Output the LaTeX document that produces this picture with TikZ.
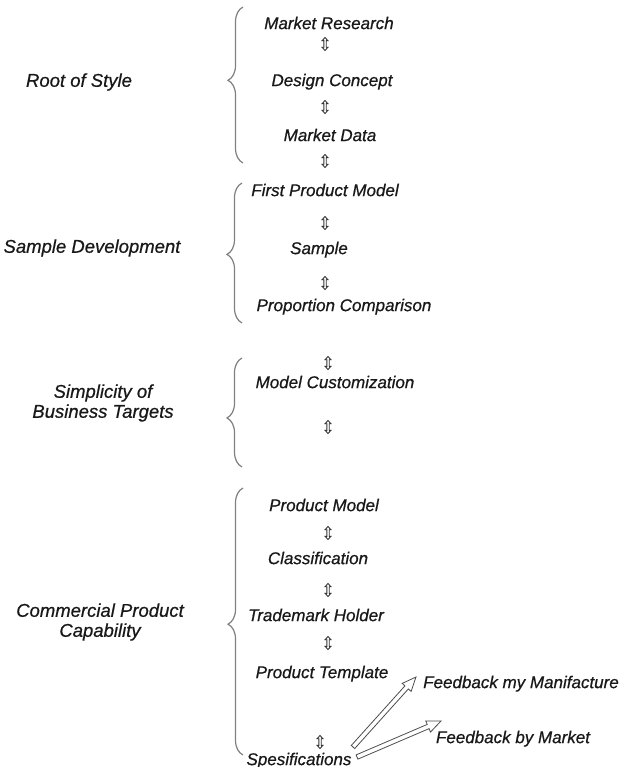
\documentclass[tikz,border=0pt]{standalone}
\usepackage{fontspec}
\setmainfont{Liberation Sans}[ItalicFeatures={FakeBold=0.6}]
\usetikzlibrary{calc,decorations.pathreplacing}

\tikzset{
  itemtext/.style={font=\fontsize{17}{20}\selectfont\itshape, text=black!90,
    inner sep=0pt, text height=12.2pt, text depth=0pt},
  grouptext/.style={font=\fontsize{18.5}{20}\selectfont\itshape, text=black!90,
    inner sep=0pt, align=center},
  groupbrace/.style={draw=black!50, line width=1.2pt, decorate,
    decoration={brace, amplitude=15pt, aspect=#1}},
  updown/.pic={
    \draw[black!80, line width=0.9pt, line join=miter]
      (0,-6.5) -- (2.9,-3.3) -- (1.2,-3.3) -- (1.2,3.3) -- (2.9,3.3) -- (0,6.5)
      -- (-2.9,3.3) -- (-1.2,3.3) -- (-1.2,-3.3) -- (-2.9,-3.3) -- cycle;
  },
  hollowarrow/.style={draw=black!70, line width=0.8pt, line join=miter, fill=white}
}

% open double-outline arrow from #1 to #2
\newcommand\outlinearrow[2]{%
  \coordinate (hb) at ($(#2)!14pt!(#1)$);
  \draw[hollowarrow]
    ($(#1)!2.3pt!90:(#2)$) -- ($(hb)!2.3pt!90:(#2)$) -- ($(hb)!6pt!90:(#2)$)
    -- (#2) -- ($(hb)!6pt!-90:(#2)$) -- ($(hb)!2.3pt!-90:(#2)$)
    -- ($(#1)!2.3pt!-90:(#2)$) -- cycle;
}

\begin{document}
\begin{tikzpicture}[x=1pt, y=-1pt]
  \useasboundingbox (0,0) rectangle (619,767);
  \fill[white] (0,0) rectangle (619,767);

  % ---- Root of Style ----
  \node[grouptext] (g1) at (79,82) {Root of Style};
  \draw[groupbrace=0.53] (243,163) -- (243,7);
  \node[itemtext] (mr)  at (329,23)  {Market Research};
  \node[itemtext] (dc)  at (332,80)  {Design Concept};
  \node[itemtext] (md)  at (330,135) {Market Data};
  \pic at (325,44)  {updown};
  \pic at (325,107) {updown};
  \pic at (325,161) {updown};

  % ---- Sample Development ----
  \node[grouptext] (g2) at (92,248) {Sample Development};
  \draw[groupbrace=0.49] (242,323) -- (242,183);
  \node[itemtext] (fpm) at (325,190) {First Product Model};
  \node[itemtext] (smp) at (319,248) {Sample};
  \node[itemtext] (pc)  at (344,305) {Proportion Comparison};
  \pic at (325,223) {updown};
  \pic at (325,283) {updown};

  % ---- Simplicity of Business Targets ----
  \node[grouptext] (g3) at (103,403) {Simplicity of\\Business Targets};
  \draw[groupbrace=0.45] (242,467) -- (242,358);
  \node[itemtext] (mc)  at (335,382) {Model Customization};
  \pic at (328,363) {updown};
  \pic at (328,427) {updown};

  % ---- Commercial Product Capability ----
  \node[grouptext] (g4) at (100,622) {Commercial Product\\Capability};
  \draw[groupbrace=0.49] (243,755) -- (243,488);
  \node[itemtext] (pm)   at (324,505) {Product Model};
  \node[itemtext] (cls)  at (318,558) {Classification};
  \node[itemtext] (th)   at (316,615) {Trademark Holder};
  \node[itemtext] (pt)   at (322,672) {Product Template};
  \node[itemtext] (spec) at (299,759) {Spesifications};
  \pic at (328,533) {updown};
  \pic at (328,590) {updown};
  \pic at (328,643) {updown};
  \pic at (320,742) {updown};

  % ---- feedback ----
  \node[itemtext] (fm) at (521,682) {Feedback my Manifacture};
  \node[itemtext] (fb) at (513,737) {Feedback by Market};
  \coordinate (t1) at (353,747);
  \coordinate (h1) at (416,677);
  \coordinate (t2) at (357,757);
  \coordinate (h2) at (441,721);
  \outlinearrow{t1}{h1}
  \outlinearrow{t2}{h2}
\end{tikzpicture}
\end{document}
